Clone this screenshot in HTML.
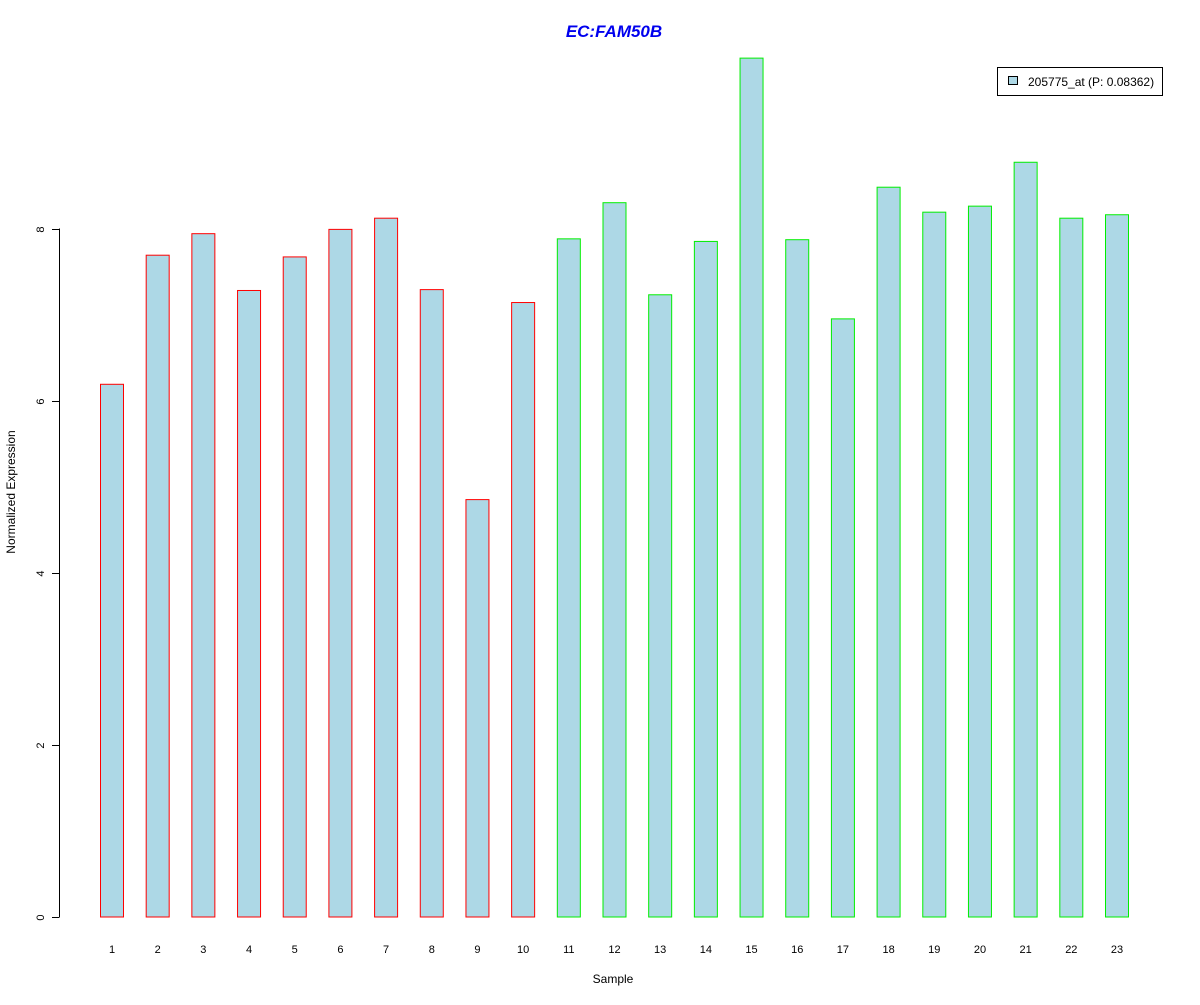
<!DOCTYPE html>
<html><head><meta charset="utf-8"><style>
html,body{margin:0;padding:0;background:#fff;}
svg text{font-family:"Liberation Sans",Arial,sans-serif;}
</style></head><body>
<svg id="chart" width="1200" height="1000" xmlns="http://www.w3.org/2000/svg">
<text x="614" y="37" text-anchor="middle" font-size="17" font-weight="bold" font-style="italic" fill="#0000ee">EC:FAM50B</text>
<g id="bars"></g>
<g id="yaxis"></g>
<g id="xlabels"></g>
<text x="613" y="983" text-anchor="middle" font-size="12">Sample</text>
<text transform="translate(15,492) rotate(-90)" text-anchor="middle" font-size="12">Normalized Expression</text>
<g>
<rect x="997.5" y="67.5" width="165" height="28" fill="#fff" stroke="#000"/>
<rect x="1008.5" y="76.5" width="9" height="8" fill="#add8e6" stroke="#000"/>
<text x="1028" y="86" font-size="12">205775_at (P: 0.08362)</text>
</g>
</svg>
<script>
const categories = ["1","2","3","4","5","6","7","8","9","10","11","12","13","14","15","16","17","18","19","20","21","22","23"];
const values = [6.19,7.69,7.94,7.28,7.67,7.99,8.12,7.29,4.85,7.14,7.88,8.30,7.23,7.85,9.98,7.87,6.95,8.48,8.19,8.26,8.77,8.12,8.16];
const groups = ["a","a","a","a","a","a","a","a","a","a","b","b","b","b","b","b","b","b","b","b","b","b","b"];
const yTicks = [0,2,4,6,8];
const NS = "http://www.w3.org/2000/svg";
const y0 = 917, pxPerUnit = 86.06;
const yScale = v => y0 - v * pxPerUnit;
const xStart = 100.5, step = (1105.5 - 100.5) / 22, bw = 23;
const xScale = i => xStart + i * step;
const bars = document.getElementById('bars');
categories.forEach((c, i) => {
  const r = document.createElementNS(NS, 'rect');
  
  
  const top = yScale(values[i]);
  r.setAttribute('x', xScale(i));
  r.setAttribute('y', top);
  r.setAttribute('width', bw);
  r.setAttribute('height', y0 - top);
  r.setAttribute('fill', '#add8e6');
  r.setAttribute('stroke', groups[i] === 'a' ? '#ff0000' : '#00ee00');
  bars.appendChild(r);
  const t = document.createElementNS(NS, 'text');
  
  
  t.setAttribute('x', xScale(i) + bw / 2);
  t.setAttribute('y', 953);
  t.setAttribute('text-anchor', 'middle');
  t.setAttribute('font-size', '11');
  t.textContent = c;
  document.getElementById('xlabels').appendChild(t);
});
const ya = document.getElementById('yaxis');
const line = document.createElementNS(NS, 'line');


line.setAttribute('x1', 59.5); line.setAttribute('x2', 59.5);
line.setAttribute('y1', yScale(yTicks[0])); line.setAttribute('y2', yScale(yTicks[yTicks.length - 1]));
line.setAttribute('stroke', '#000');
ya.appendChild(line);
yTicks.forEach(v => {
  const y = Math.round(yScale(v)) + 0.5;
  const tk = document.createElementNS(NS, 'line');
  
  
  tk.setAttribute('x1', 52); tk.setAttribute('x2', 59.5);
  tk.setAttribute('y1', y); tk.setAttribute('y2', y);
  tk.setAttribute('stroke', '#000');
  ya.appendChild(tk);
  const t = document.createElementNS(NS, 'text');
  
  
  t.setAttribute('transform', 'translate(44,' + y + ') rotate(-90)');
  t.setAttribute('text-anchor', 'middle');
  t.setAttribute('font-size', '11');
  t.textContent = v;
  ya.appendChild(t);
});
</script>
</body></html>
